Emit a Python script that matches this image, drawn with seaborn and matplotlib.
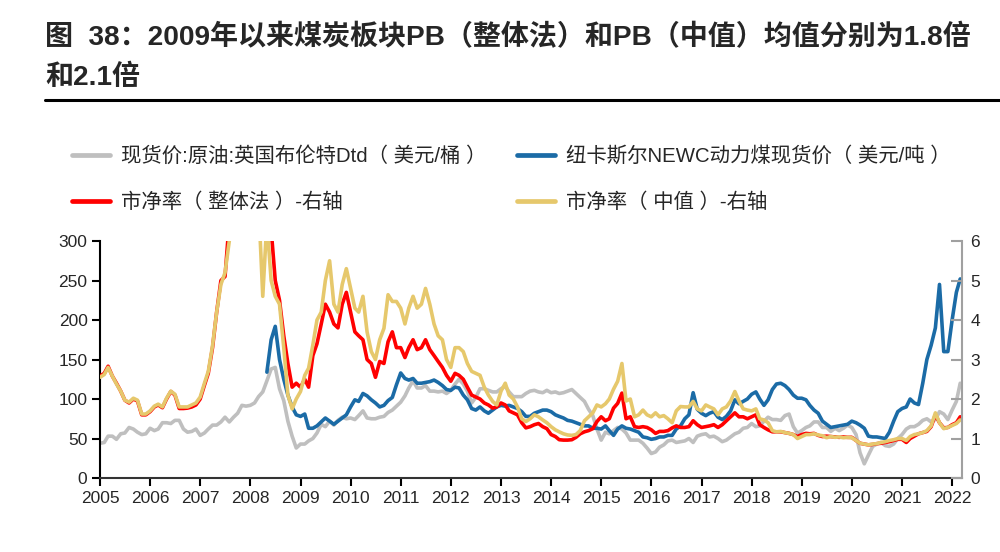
import numpy as np
import pandas as pd
import seaborn as sns
import matplotlib as mpl
from matplotlib import pyplot as plt
from matplotlib.lines import Line2D

# monthly values, Jan 2005 .. Mar 2022
brent = [
    44, 45, 53, 53, 49, 56, 57, 64, 62, 58, 55, 56,
    63, 60, 62, 70, 70, 69, 73, 73, 62, 58, 59, 62,
    54, 57, 62, 67, 67, 71, 77, 71, 77, 82, 92, 91,
    92, 95, 103, 109, 123, 138, 140, 113, 98, 72, 53, 38,
    43, 43, 47, 50, 57, 68, 65, 72, 67, 73, 77, 75,
    76, 74, 79, 85, 76, 75, 75, 77, 78, 83, 86, 91,
    96, 104, 114, 123, 114, 114, 117, 110, 110, 109, 110, 107,
    111, 119, 125, 119, 110, 95, 102, 113, 113, 111, 109, 109,
    113, 116, 109, 103, 103, 103, 107, 110, 111, 109, 108, 111,
    108, 109, 107, 108, 110, 112, 107, 102, 97, 87, 79, 62,
    48, 58, 56, 60, 64, 62, 57, 48, 48, 48, 44, 38,
    31, 33, 39, 42, 47, 48, 45, 46, 47, 50, 45, 53,
    55, 56, 52, 53, 50, 46, 48, 52, 56, 58, 63, 64,
    69, 65, 66, 72, 77, 74, 74, 73, 79, 81, 65, 57,
    60, 64, 66, 71, 71, 64, 64, 59, 63, 60, 63, 67,
    64, 55, 32, 18, 29, 40, 43, 45, 41, 40, 43, 50,
    55, 62, 65, 65, 68, 73, 75, 71, 74, 84, 81, 74,
    86, 97, 120,
]

newc = [np.nan] * 40 + [
    134, 175, 192, 150, 125, 105, 90, 80,
    78, 81, 63, 63, 66, 71, 76, 72, 68, 72, 76, 80,
    90, 99, 97, 107, 104, 99, 95, 90, 92, 98, 102, 118,
    133, 126, 124, 126, 120, 120, 121, 122, 124, 121, 117, 112,
    111, 115, 114, 105, 99, 88, 86, 90, 85, 82, 86, 90,
    92, 91, 92, 90, 88, 84, 78, 78, 82, 84, 86, 86,
    84, 80, 78, 76, 73, 72, 70, 68, 66, 66, 63, 63,
    62, 66, 60, 54, 62, 66, 63, 62, 60, 58, 52, 51,
    49, 50, 52, 52, 54, 54, 62, 66, 75, 80, 108, 87,
    82, 79, 82, 84, 77, 74, 78, 85, 99, 94, 97, 100,
    106, 109, 100, 92, 99, 112, 119, 120, 117, 112, 105, 101,
    101, 99, 92, 86, 82, 72, 68, 64, 65, 66, 67, 68,
    72, 70, 67, 63, 53, 52, 52, 51, 50, 58, 72, 84,
    88, 90, 100, 95, 93, 120, 150, 168, 190, 245, 160, 160,
    200, 235, 252,
]

pb_total = [
    2.58, 2.65, 2.83, 2.58, 2.4, 2.2, 1.97, 1.9, 2.0, 1.95, 1.6, 1.6,
    1.68, 1.8, 1.85, 1.78, 2.0, 2.19, 2.1, 1.76, 1.76, 1.77, 1.8, 1.85,
    2.0, 2.35, 2.65, 3.3, 4.2, 5.0, 5.1, 6.5, 8.0, 9.0, 9.5, 8.5,
    8.0, 8.5, 7.5, 7.0, 6.8, 6.3, 5.0, 4.5, 3.6, 2.9, 2.3, 2.4,
    2.3, 2.5, 2.3, 3.1, 3.4, 3.9, 4.4, 4.2, 3.9, 3.8, 4.4, 4.7,
    4.2, 3.7, 3.6, 3.5, 3.0, 2.9, 2.55, 2.95, 2.9, 3.45, 3.7, 3.3,
    3.3, 3.05, 3.3, 3.5, 3.25, 3.3, 3.5, 3.25, 3.1, 2.95, 2.8, 2.6,
    2.45, 2.65, 2.6, 2.5, 2.3, 2.1, 2.05, 2.0, 1.9, 1.85, 1.77, 1.8,
    1.9, 1.85, 1.7, 1.65, 1.6, 1.4, 1.27, 1.3, 1.35, 1.38, 1.3, 1.25,
    1.1, 1.05, 0.97, 0.96, 0.96, 0.97, 1.03, 1.12, 1.17, 1.2, 1.25, 1.43,
    1.55, 1.45, 1.5, 1.77, 1.89, 2.15, 1.5, 1.55, 1.3, 1.28, 1.3, 1.28,
    1.22, 1.13, 1.18, 1.18, 1.2, 1.27, 1.32, 1.28, 1.28, 1.3, 1.45, 1.35,
    1.28, 1.3, 1.32, 1.35, 1.28, 1.35, 1.45, 1.55, 1.65, 1.55, 1.55, 1.5,
    1.55, 1.6, 1.35, 1.28, 1.22, 1.17, 1.17, 1.17, 1.15, 1.13, 1.1, 1.05,
    1.1, 1.13, 1.12, 1.13, 1.08, 1.05, 1.06, 1.05, 1.04, 1.03, 1.04, 1.03,
    1.03, 0.95, 0.88, 0.86, 0.84, 0.85, 0.87, 0.88, 0.9, 0.92, 0.95, 0.98,
    0.98, 0.9, 1.0, 1.06, 1.12, 1.15, 1.18, 1.3, 1.6, 1.4, 1.27, 1.28,
    1.35, 1.4, 1.55,
]

pb_median = [
    2.55, 2.62, 2.8, 2.58, 2.38, 2.2, 1.97, 1.92, 2.02, 1.97, 1.62, 1.62,
    1.7, 1.82, 1.87, 1.8, 2.02, 2.2, 2.12, 1.8, 1.8, 1.8, 1.85, 1.9,
    2.05, 2.4, 2.7, 3.35, 4.2, 4.9, 5.2, 6.0, 6.8, 8.0, 9.0, 8.5,
    8.0, 8.5, 7.0, 4.6, 6.5, 5.0, 4.6, 4.4, 3.3, 2.1, 1.75, 2.0,
    2.19, 2.6, 2.78, 3.37, 4.0, 4.2, 5.0, 5.5, 4.4, 4.2, 4.9, 5.3,
    4.8, 4.3, 4.2, 4.6, 3.7, 3.2, 3.0, 3.5, 3.79, 4.64, 4.47, 4.47,
    4.3, 3.9, 4.3, 4.6, 4.3, 4.4, 4.8, 4.4, 3.9, 3.6, 3.5, 3.0,
    2.8, 3.3, 3.3, 3.2, 2.9, 2.7, 2.65, 2.6, 2.3, 2.1, 1.94, 1.85,
    2.2, 2.4, 2.1, 2.0, 1.8, 1.5, 1.43, 1.5, 1.6, 1.55, 1.47, 1.4,
    1.3, 1.22, 1.17, 1.12, 1.09, 1.08, 1.1, 1.2, 1.45, 1.55, 1.65, 1.85,
    1.8, 1.88, 2.0, 2.25, 2.45, 2.9, 1.95, 2.0, 1.55, 1.6, 1.72, 1.6,
    1.55, 1.65, 1.55, 1.58, 1.5, 1.4, 1.7, 1.81, 1.8, 1.8, 1.94, 1.75,
    1.7, 1.85, 1.8, 1.75, 1.6, 1.75, 1.8, 1.95, 2.19, 1.95, 1.75, 1.72,
    1.7, 1.75, 1.5, 1.47, 1.4, 1.2, 1.17, 1.18, 1.15, 1.13, 1.1, 1.0,
    1.05, 1.1, 1.1, 1.12, 1.09, 1.07, 1.02, 1.05, 1.03, 1.04, 1.02, 1.03,
    1.02, 0.95, 0.88, 0.86, 0.84, 0.86, 0.87, 0.9, 0.92, 0.95, 0.97, 1.0,
    1.0, 0.95, 1.05, 1.1, 1.12, 1.15, 1.2, 1.32, 1.65, 1.4, 1.25, 1.28,
    1.33, 1.38, 1.47,
]

dates = pd.date_range('2005-01-01', periods=len(brent), freq='MS')
df = pd.DataFrame({'date': dates, 'brent': brent, 'newc': newc,
                   'pb_total': pb_total, 'pb_median': pb_median})

labels = ['现货价:原油:英国布伦特Dtd（ 美元/桶 ）', '纽卡斯尔NEWC动力煤现货价（ 美元/吨 ）',
          '市净率（ 整体法 ）-右轴', '市净率（ 中值 ）-右轴']
colors = ['#BFBFBF', '#1B6BA6', '#FF0000', '#E6C86C']
years = list(range(2005, 2023))

sns.set_theme(style='ticks')
plt.rcParams['font.family'] = ['Liberation Sans', 'Noto Sans CJK SC', 'DejaVu Sans']

fig = plt.figure(figsize=(10, 5.52), dpi=100)
ax = fig.add_axes([0.1, 0.134, 0.862, 0.4294])
ax2 = ax.twinx()

lw = 2.6
sns.lineplot(data=df, x='date', y='brent', ax=ax, color=colors[0], lw=lw)
sns.lineplot(data=df, x='date', y='newc', ax=ax, color=colors[1], lw=lw)
sns.lineplot(data=df, x='date', y='pb_total', ax=ax2, color=colors[2], lw=lw)
sns.lineplot(data=df, x='date', y='pb_median', ax=ax2, color=colors[3], lw=lw)

ax.set_xlim(pd.Timestamp('2005-01-01'), pd.Timestamp('2022-03-14'))
ax.set_ylim(0, 300)
ax2.set_ylim(0, 6)
ax.set_yticks(range(0, 301, 50))
ax2.set_yticks(range(0, 7))
ax.set_xticks([pd.Timestamp(f'{y}-01-01') for y in years])
ax.set_xticklabels([str(y) for y in years])
ax.set_xlabel('')
ax.set_ylabel('')
ax2.set_ylabel('')

for a in (ax, ax2):
    a.spines['top'].set_visible(False)
ax.spines['right'].set_visible(False)
ax2.spines['left'].set_visible(False)
ax2.spines['bottom'].set_visible(False)
ax.spines['left'].set_color('black')
ax.spines['bottom'].set_color('#333333')
ax.spines['left'].set_linewidth(1.5)
ax.spines['bottom'].set_linewidth(1.5)
ax2.spines['right'].set_color('#A0A0A0')
ax2.spines['right'].set_linewidth(1.5)

ax.tick_params(axis='x', direction='out', length=6, width=1.5, color='black',
               labelsize=12.5, pad=3)
ax.tick_params(axis='y', direction='out', length=6, width=1.5, color='black',
               labelsize=12.5, pad=3)
ax2.tick_params(axis='y', direction='in', length=8, width=1.5, color='#A0A0A0',
                labelsize=12.5, pad=6)

handles = [Line2D([], [], color=c, lw=3.4) for c in colors]
order = [0, 2, 1, 3]
fig.legend([handles[i] for i in order], [labels[i] for i in order],
           loc='upper left', bbox_to_anchor=(0.072, 0.735), ncol=2,
           frameon=False, fontsize=14.7, handlelength=1.85, handletextpad=0.55,
           columnspacing=1.5, labelspacing=1.3, borderpad=0, borderaxespad=0)

title_font = ['Liberation Sans', 'Noto Sans CJK SC', 'DejaVu Sans']
fig.text(0.045, 1 - 38 / 552, '图  38：2009年以来煤炭板块PB（整体法）和PB（中值）均值分别为1.8倍',
         fontsize=20.2, fontweight='bold', va='center', ha='left', family=title_font)
fig.text(0.045, 1 - 78 / 552, '和2.1倍', fontsize=20.2, fontweight='bold',
         va='center', ha='left', family=title_font)
fig.add_artist(Line2D([0.045, 1.0], [1 - 100 / 552] * 2, color='black', lw=2.2))

fig.savefig('out.png', dpi=100)
